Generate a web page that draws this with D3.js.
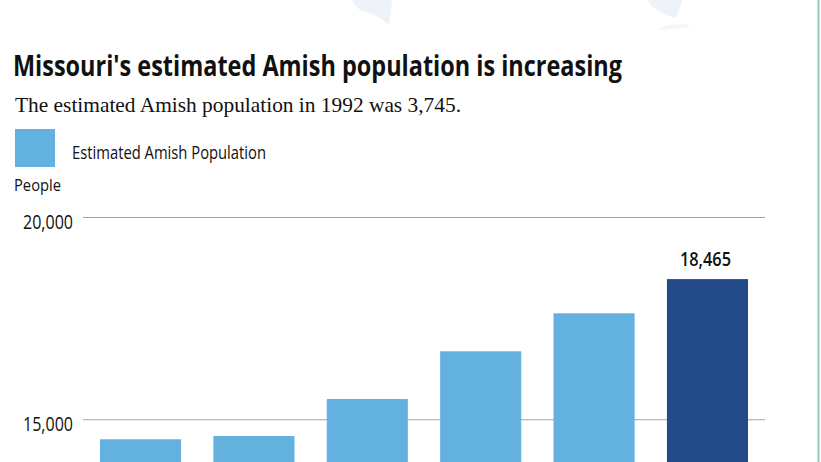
<!DOCTYPE html>
<html>
<head>
<meta charset="utf-8">
<script src="https://cdn.jsdelivr.net/npm/d3@7"></script>
<style>
  body { margin: 0; background: #fff; }
  svg { display: block; }
</style>
</head>
<body>
<script>
// Data (x labels fall below the visible crop)
const years = ["2016", "2017", "2018", "2019", "2020", "2021"];
const population = [14505, 14585, 15500, 16680, 17620, 18465];
const gridTicks = [15000, 20000];

const title = "Missouri's estimated Amish population is increasing";
const subtitle = "The estimated Amish population in 1992 was 3,745.";
const legendLabel = "Estimated Amish Population";
const yLabel = "People";

const W = 821, H = 462;
const lightBlue = "#63b1df", darkBlue = "#244b89";

const svg = d3.select("body")
  .append("svg")
    .attr("width", W)
    .attr("height", H);

// faint map shapes bleeding in from the top
svg.append("path")
  .attr("d", "M352,0 L392,0 L391,10 L389,25 L383,20 L372,14 L360,10 L354,4 Z")
  .attr("fill", "#edf3f9");
svg.append("path")
  .attr("d", "M648,0 L682,0 L680,8 L676,18 L668,16 L657,10 L650,5 Z")
  .attr("fill", "#edf3f9");
svg.append("path")
  .attr("d", "M656,30 L668,25 L688,24 L690,27 L670,29 Z")
  .attr("fill", "#f3f6fa");

// teal rule on the right edge
svg.append("line")
  .attr("x1", 818.5).attr("x2", 818.5)
  .attr("y1", 0).attr("y2", H)
  .attr("stroke", "#95c7c0")
  .attr("stroke-width", 2);

// Title + subtitle
svg.append("text")
  .attr("x", 13).attr("y", 76)
  .attr("font-family", "'Open Sans', sans-serif")
  .attr("font-weight", 700)
  .attr("font-size", 28)
  .attr("fill", "#111")
  .attr("textLength", 609)
  .attr("lengthAdjust", "spacingAndGlyphs")
  .text(title);

svg.append("text")
  .attr("x", 15).attr("y", 111.5)
  .attr("font-family", "'Liberation Serif', serif")
  .attr("font-size", 21)
  .attr("fill", "#111")
  .attr("textLength", 446)
  .attr("lengthAdjust", "spacingAndGlyphs")
  .text(subtitle);

// Legend
svg.append("rect")
  .attr("x", 15).attr("y", 129)
  .attr("width", 40).attr("height", 38)
  .attr("fill", lightBlue);

svg.append("text")
  .attr("x", 72).attr("y", 159)
  .attr("font-family", "'Open Sans', sans-serif")
  .attr("font-size", 18)
  .attr("fill", "#111")
  .attr("textLength", 194)
  .attr("lengthAdjust", "spacingAndGlyphs")
  .text(legendLabel);

svg.append("text")
  .attr("x", 14).attr("y", 191)
  .attr("font-family", "'Open Sans', sans-serif")
  .attr("font-size", 17)
  .attr("fill", "#111")
  .attr("textLength", 47)
  .attr("lengthAdjust", "spacingAndGlyphs")
  .text(yLabel);

// Scales
const x = d3.scaleBand()
  .domain(years)
  .range([83, 765])
  .paddingInner(0.285)
  .paddingOuter(0.15);

const y = d3.scaleLinear()
  .domain([0, 20000])
  .range([1026, 217]);

// Gridlines + tick labels
const yAxis = svg.append("g")
  .attr("transform", "translate(83,0)")
  .call(d3.axisLeft(y)
    .tickValues(gridTicks)
    .tickSize(-(765 - 83))
    .tickFormat(d3.format(",")));

yAxis.select(".domain").remove();
yAxis.selectAll(".tick line")
  .attr("stroke", "#a3a3a3")
  .attr("stroke-width", 1);
yAxis.selectAll(".tick text")
  .attr("x", -10)
  .attr("dy", 11.5)
  .attr("font-family", "'Open Sans', sans-serif")
  .attr("font-size", 19.5)
  .attr("fill", "#111")
  .attr("textLength", 50)
  .attr("lengthAdjust", "spacingAndGlyphs");

// Bars
const last = years[years.length - 1];
svg.append("g")
  .selectAll("rect")
  .data(years.map((yr, i) => ({ yr, v: population[i] })))
  .join("rect")
    .attr("x", d => x(d.yr))
    .attr("y", d => y(d.v))
    .attr("width", x.bandwidth())
    .attr("height", d => y(0) - y(d.v))
    .attr("fill", d => d.yr === last ? darkBlue : lightBlue);

// Value label on the highlighted bar
svg.append("text")
  .attr("x", x(last) + x.bandwidth() / 2 - 2)
  .attr("y", y(population[population.length - 1]) - 13)
  .attr("text-anchor", "middle")
  .attr("font-family", "'Open Sans', sans-serif")
  .attr("font-weight", 600)
  .attr("font-size", 19)
  .attr("fill", "#111")
  .attr("textLength", 51)
  .attr("lengthAdjust", "spacingAndGlyphs")
  .text(d3.format(",")(population[population.length - 1]));
</script>
</body>
</html>
